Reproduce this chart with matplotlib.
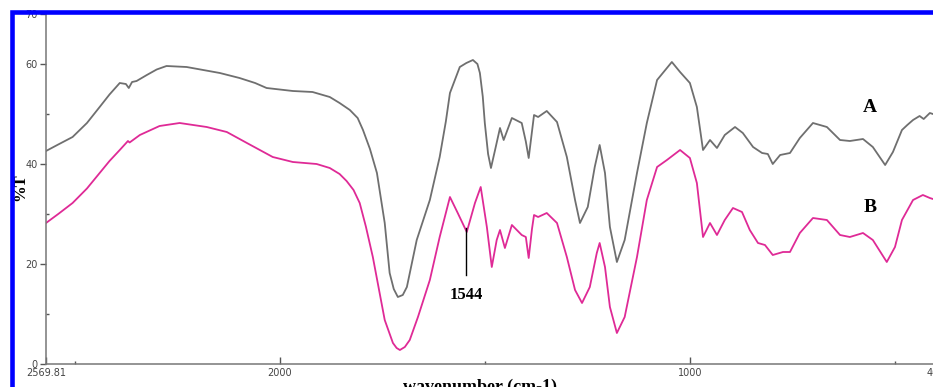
import matplotlib
matplotlib.use("Agg")
import matplotlib.pyplot as plt
from matplotlib.patches import Rectangle
from matplotlib.ticker import FixedLocator

# wavenumber (cm-1) and %T
wn_a = [2569.8, 2540, 2505, 2470, 2439, 2415, 2390, 2375, 2368, 2360, 2349, 2324, 2300,
        2276, 2227, 2146, 2098, 2060, 2032, 1968, 1920, 1878, 1854, 1829, 1810, 1797,
        1780, 1763, 1744, 1732, 1722, 1712, 1700, 1690, 1666, 1634, 1610, 1595, 1585,
        1561, 1545, 1529, 1518, 1512, 1505, 1500, 1492, 1485, 1475, 1463, 1454, 1434,
        1410, 1400, 1393, 1385, 1380, 1370, 1349, 1324, 1300, 1280, 1268, 1249, 1232,
        1220, 1207, 1195, 1178, 1159, 1129, 1105, 1080, 1056, 1044, 1024, 1000, 983,
        968, 951, 934, 915, 890, 871, 846, 824, 810, 798, 780, 756, 732, 700, 666, 634,
        610, 578, 554, 524, 505, 483, 470, 456, 440, 430, 415, 400]
t_a = [42.6, 43.9, 45.4, 48.2, 51.4, 53.9, 56.2, 56.0, 55.2, 56.4, 56.6, 57.8, 58.9,
       59.6, 59.4, 58.2, 57.2, 56.2, 55.2, 54.6, 54.4, 53.4, 52.2, 50.8, 49.2, 46.8,
       43.0, 38.2, 28.2, 18.2, 15.0, 13.4, 13.8, 15.4, 24.8, 32.8, 41.4, 48.5, 54.2,
       59.4, 60.2, 60.8, 60.0, 58.2, 53.5, 48.2, 42.0, 39.2, 42.8, 47.2, 44.8, 49.2,
       48.2, 44.5, 41.2, 46.5, 49.8, 49.4, 50.6, 48.4, 41.4, 32.8, 28.2, 31.4, 39.4,
       43.8, 38.2, 27.4, 20.4, 24.8, 38.2, 48.2, 56.8, 59.2, 60.4, 58.4, 56.2, 51.4,
       42.8, 44.8, 43.2, 45.8, 47.4, 46.2, 43.4, 42.2, 42.0, 40.0, 41.8, 42.2, 45.2,
       48.2, 47.4, 44.8, 44.6, 45.0, 43.4, 39.8, 42.4, 46.8, 47.8, 48.8, 49.6, 49.0,
       50.2, 49.8]

wn_b = [2569.8, 2540, 2505, 2470, 2439, 2415, 2390, 2370, 2366, 2341, 2293, 2244, 2178,
        2129, 2080, 2017, 1968, 1910, 1878, 1854, 1837, 1820, 1805, 1790, 1773, 1744,
        1724, 1715, 1707, 1695, 1683, 1663, 1634, 1610, 1585, 1566, 1544, 1524, 1510,
        1495, 1483, 1471, 1463, 1451, 1434, 1410, 1400, 1393, 1385, 1380, 1370, 1349,
        1324, 1300, 1280, 1263, 1244, 1227, 1220, 1207, 1195, 1178, 1159, 1129, 1105,
        1080, 1056, 1024, 1000, 983, 968, 951, 934, 915, 895, 873, 854, 834, 817, 798,
        773, 756, 732, 700, 666, 634, 610, 578, 554, 520, 500, 483, 456, 432, 415, 400]
t_b = [28.2, 30.0, 32.2, 35.1, 38.2, 40.6, 42.8, 44.6, 44.3, 45.8, 47.6, 48.2, 47.4,
       46.4, 44.2, 41.4, 40.4, 40.0, 39.2, 38.0, 36.6, 34.8, 32.2, 27.5, 21.4, 8.8,
       4.2, 3.2, 2.8, 3.4, 4.8, 9.4, 16.8, 25.4, 33.4, 30.2, 26.4, 32.2, 35.4,
       27.4, 19.4, 24.8, 26.8, 23.2, 27.8, 25.8, 25.4, 21.2, 27.0, 29.8, 29.4, 30.2,
       28.2, 21.4, 14.8, 12.2, 15.4, 22.2, 24.2, 19.4, 11.4, 6.2, 9.4, 21.4, 32.8,
       39.4, 40.8, 42.8, 41.2, 36.2, 25.4, 28.2, 25.8, 28.8, 31.2, 30.4, 26.8, 24.2,
       23.8, 21.8, 22.4, 22.4, 26.2, 29.2, 28.8, 25.8, 25.4, 26.2, 24.8, 20.4, 23.4,
       28.8, 32.8, 33.8, 33.2, 32.8]

x_ticks = [2569.81, 2000, 1000, 400]
x_ticklabels = ["2569.81", "2000", "1000", "400"]
x_minor = [2500, 1500, 500]
y_ticks = [0, 20, 40, 60, 70]
y_minor = [10, 30, 50]

fig = plt.figure(figsize=(9.33, 3.87), dpi=100)
ax = fig.add_axes([46 / 933, 23 / 387, 890 / 933, 350 / 387])

ax.plot(wn_a, t_a, color="#6f6f6f", lw=1.3)
ax.plot(wn_b, t_b, color="#df2a96", lw=1.3)

ax.set_xlim(2569.81, 400)
ax.set_ylim(0, 70)

ax.set_xticks(x_ticks)
ax.set_xticklabels(x_ticklabels)
ax.xaxis.set_minor_locator(FixedLocator(x_minor))
ax.set_yticks(y_ticks)
ax.yaxis.set_minor_locator(FixedLocator(y_minor))
ax.tick_params(axis="x", which="major", direction="in", length=5, width=1,
               color="#555555", labelsize=7, labelcolor="#444444", pad=3)
ax.tick_params(axis="x", which="minor", direction="in", length=2, width=1, color="#555555")
ax.tick_params(axis="y", which="major", direction="out", length=4, width=1,
               color="#555555", labelsize=7, labelcolor="#444444", pad=2)
ax.tick_params(axis="y", which="minor", direction="in", length=2, width=1, color="#555555")

for side in ["top", "right"]:
    ax.spines[side].set_visible(False)
for side in ["left", "bottom"]:
    ax.spines[side].set_color("#777777")
    ax.spines[side].set_linewidth(1.1)

serif = ["Liberation Serif", "DejaVu Serif"]
ax.text(561, 51.4, "A", fontsize=14, fontweight="bold", family=serif, ha="center", va="center")
ax.text(561, 31.2, "B", fontsize=14, fontweight="bold", family=serif, ha="center", va="center")

ax.plot([1546, 1546], [27.2, 17.8], color="black", lw=1)
ax.text(1546, 13.8, "1544", fontsize=12, fontweight="bold", family=serif, ha="center", va="center")

fig.text(480 / 933, 1 - 387 / 387, "wavenumber (cm-1)", fontsize=13, fontweight="bold",
         family=serif, ha="center", va="center")
fig.text(20 / 933, 1 - 187 / 387, "%T", fontsize=12, fontweight="bold", family=serif,
         rotation=90, ha="center", va="center")

# blue frame round the picture, cut at right and bottom
fig.patches.append(Rectangle((12 / 933, -0.2), 1.2, 1.2 - 12 / 387, transform=fig.transFigure,
                             fill=False, edgecolor="#0000ff", lw=3.3, zorder=10))

fig.savefig("out.png", dpi=100)
